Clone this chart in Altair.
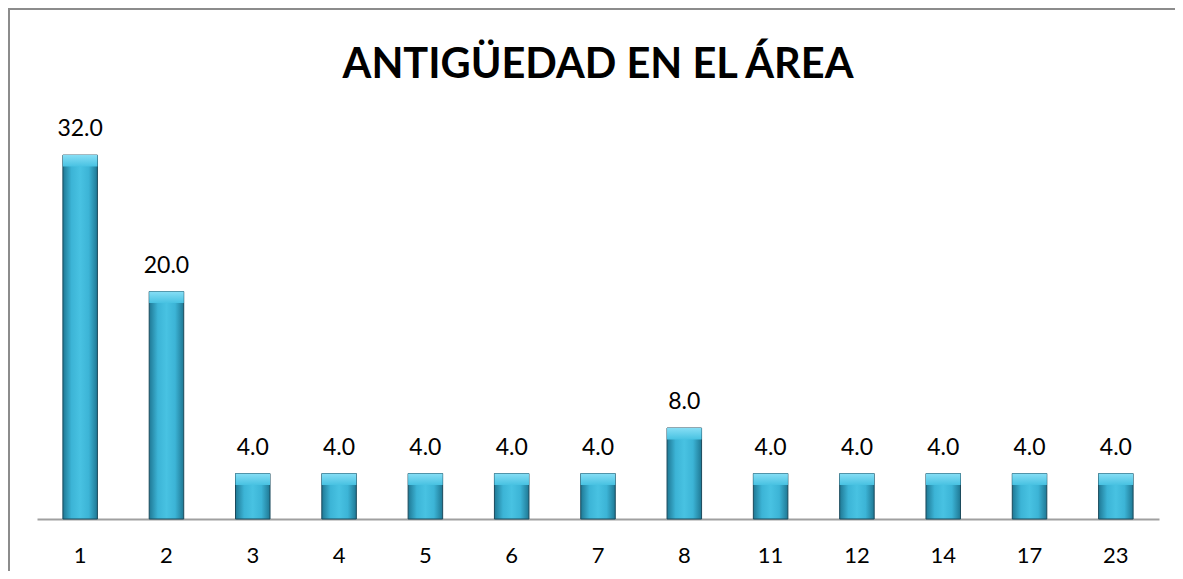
import altair as alt
import pandas as pd

categories = ["1", "2", "3", "4", "5", "6", "7", "8", "11", "12", "14", "17", "23"]
values = [32.0, 20.0, 4.0, 4.0, 4.0, 4.0, 4.0, 8.0, 4.0, 4.0, 4.0, 4.0, 4.0]
title_text = ["ANTIGÜEDAD EN EL ÁREA"]

df = pd.DataFrame({"cat": categories, "val": values})
tdf = pd.DataFrame({"t": title_text})

FONT = "Lato"

x_enc = alt.X("cat:N", sort=categories, title=None,
              scale=alt.Scale(paddingInner=0.6, paddingOuter=0.3),
              axis=alt.Axis(labelAngle=0, ticks=False, domainColor="#a0a0a0", domainWidth=2,
                            labelFontSize=22, labelFont=FONT, labelColor="#000000",
                            labelBaseline="alphabetic", labelPadding=43))
y_scale = alt.Scale(domain=[0, 35], nice=False)

border = alt.Chart(df).mark_rect(fill=None, stroke="#8c8c8c", strokeWidth=2).encode(
    x=alt.value(-28), x2=alt.value(1200), y=alt.value(-112), y2=alt.value(600)
)

title = alt.Chart(tdf).mark_text(font=FONT, fontSize=41.5, fontWeight="bold", color="#000000",
                                 baseline="alphabetic", align="center").encode(
    x=alt.value(561), y=alt.value(-43), text="t:N"
)

grad = alt.Gradient(
    gradient="linear", x1=0, x2=1, y1=0, y2=0,
    stops=[alt.GradientStop(color="#1f7894", offset=0),
           alt.GradientStop(color="#3cb4d6", offset=0.25),
           alt.GradientStop(color="#48c2e2", offset=0.5),
           alt.GradientStop(color="#3cb4d6", offset=0.75),
           alt.GradientStop(color="#1f7894", offset=1)]
)

bars = alt.Chart(df).mark_bar(color=grad, stroke="#1b4a5c", strokeWidth=1).encode(
    x=x_enc,
    y=alt.Y("val:Q", scale=y_scale, axis=None, title=None),
)

bevel = alt.Chart(df).transform_calculate(top2="datum.val - 1.0").mark_bar(
    color=alt.Gradient(gradient="linear", x1=0, x2=0, y1=0, y2=1,
                       stops=[alt.GradientStop(color="#86def5", offset=0),
                              alt.GradientStop(color="#48c2e2", offset=1)]),
    strokeWidth=0
).encode(
    x=alt.X("cat:N", sort=categories),
    y=alt.Y("val:Q", scale=y_scale),
    y2="top2:Q",
)

labels = alt.Chart(df).mark_text(fontSize=23, font=FONT, color="#000000",
                                 baseline="alphabetic", dy=-19).encode(
    x=alt.X("cat:N", sort=categories),
    y=alt.Y("val:Q", scale=y_scale),
    text=alt.Text("val:Q", format=".1f"),
)

chart = alt.layer(border, title, bars, bevel, labels).properties(
    width=1122, height=398,
    autosize=alt.AutoSizeParams(type="none"),
    padding={"left": 29, "top": 113, "right": 16, "bottom": 52},
).configure_view(stroke=None)

chart.save("out.html", embed_options={"renderer": "svg", "actions": False})
